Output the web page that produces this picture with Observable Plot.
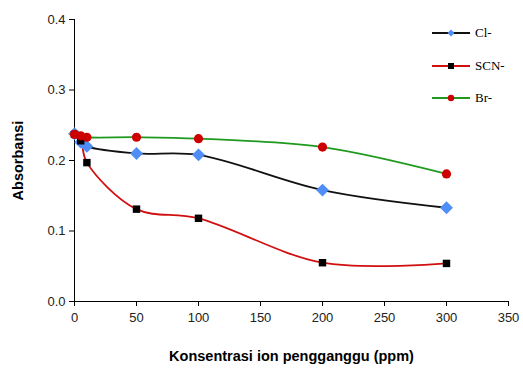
<!DOCTYPE html>
<html>
<head>
<meta charset="utf-8">
<script src="https://cdn.jsdelivr.net/npm/d3@7"></script>
<script src="https://cdn.jsdelivr.net/npm/@observablehq/plot@0.6"></script>
<style>
  body { margin: 0; background: #fff; }
  #wrap { position: relative; width: 523px; height: 372px; font-family: "Liberation Sans", Arial, sans-serif; }
  #legend { position: absolute; left: 430px; top: 17px; font-family: "Liberation Serif", "Times New Roman", serif; font-size: 13px; color: #000; }
  .li { display: flex; align-items: center; height: 32.5px; }
  .li svg { margin-right: 3px; }
</style>
</head>
<body>
<div id="wrap"><div id="legend"></div></div>
<script>
const concentrations = [0, 5, 10, 50, 100, 200, 300];
const clValues  = [0.238, 0.226, 0.220, 0.210, 0.208, 0.158, 0.133];
const scnValues = [0.237, 0.228, 0.197, 0.131, 0.118, 0.055, 0.054];
const brValues  = [0.237, 0.235, 0.233, 0.233, 0.231, 0.219, 0.181];
const seriesNames = ["Cl-", "SCN-", "Br-"];
const xTicks = [0, 50, 100, 150, 200, 250, 300, 350];
const yTicks = [0, 0.1, 0.2, 0.3, 0.4];

const toRows = (name, vals) => concentrations.map((c, i) => ({series: name, x: c, y: vals[i]}));
const cl = toRows("Cl-", clValues);
const scn = toRows("SCN-", scnValues);
const br = toRows("Br-", brValues);

const chart = Plot.plot({
  width: 523,
  height: 372,
  marginLeft: 74,
  marginRight: 15,
  marginTop: 19,
  marginBottom: 71,
  style: {fontFamily: "'Liberation Sans', Arial, sans-serif", fontSize: "13px", color: "#222", background: "white"},
  x: {domain: [0, 350], ticks: xTicks, label: null},
  y: {domain: [0, 0.4], ticks: yTicks, tickFormat: d3.format(".1f"), label: null},
  marks: [
    Plot.ruleX([0], {stroke: "#000"}),
    Plot.ruleY([0], {stroke: "#000"}),
    Plot.axisX({ticks: xTicks, tickSize: 5, tickPadding: 6, fontSize: 13, fill: "#222", stroke: "#000", label: null}),
    Plot.axisY({ticks: yTicks, tickSize: 5, tickPadding: 4, tickFormat: d3.format(".1f"), fontSize: 13, fill: "#222", stroke: "#000", label: null}),
    Plot.line(br, {x: "x", y: "y", stroke: "#1f9a1f", strokeWidth: 1.8, curve: "catmull-rom"}),
    Plot.line(scn, {x: "x", y: "y", stroke: "#d01010", strokeWidth: 1.8, curve: "catmull-rom"}),
    Plot.line(cl, {x: "x", y: "y", stroke: "#111", strokeWidth: 1.8, curve: "catmull-rom"}),
    Plot.dot(cl, {x: "x", y: "y", symbol: "diamond2", r: 5.8, fill: "#4f8ef7", stroke: "none"}),
    Plot.dot(scn, {x: "x", y: "y", symbol: "square", r: 4.2, fill: "#000", stroke: "none"}),
    Plot.dot(br, {x: "x", y: "y", symbol: "circle", r: 4.6, fill: "#cc0000", stroke: "none"}),
    Plot.text(["Absorbansi"], {frameAnchor: "left", textAnchor: "middle", dx: -56, rotate: -90, fontSize: 14.5, fontWeight: "bold", fill: "#000"}),
    Plot.text(["Konsentrasi ion pengganggu (ppm)"], {frameAnchor: "bottom", textAnchor: "middle", dy: 59, fontSize: 14.5, fontWeight: "bold", fill: "#000"})
  ]
});
const wrap = document.getElementById("wrap");
wrap.insertBefore(chart, wrap.firstChild);

const legendItems = [
  {name: seriesNames[0], line: "#111", marker: "diamond", color: "#4f8ef7"},
  {name: seriesNames[1], line: "#d01010", marker: "square", color: "#000"},
  {name: seriesNames[2], line: "#1f9a1f", marker: "circle", color: "#cc0000"}
];
const legend = d3.select("#legend");
legendItems.forEach(it => {
  const row = legend.append("div").attr("class", "li");
  const s = row.append("svg").attr("width", 42).attr("height", 10);
  s.append("line").attr("x1", 2).attr("x2", 40).attr("y1", 5).attr("y2", 5).attr("stroke", it.line).attr("stroke-width", 1.8);
  if (it.marker === "diamond") s.append("path").attr("d", "M21,1.5L24.5,5L21,8.5L17.5,5Z").attr("fill", it.color);
  else if (it.marker === "square") s.append("rect").attr("x", 18).attr("y", 2).attr("width", 6).attr("height", 6).attr("fill", it.color);
  else s.append("circle").attr("cx", 21).attr("cy", 5).attr("r", 3.2).attr("fill", it.color);
  row.append("span").text(it.name);
});
</script>
</body>
</html>
